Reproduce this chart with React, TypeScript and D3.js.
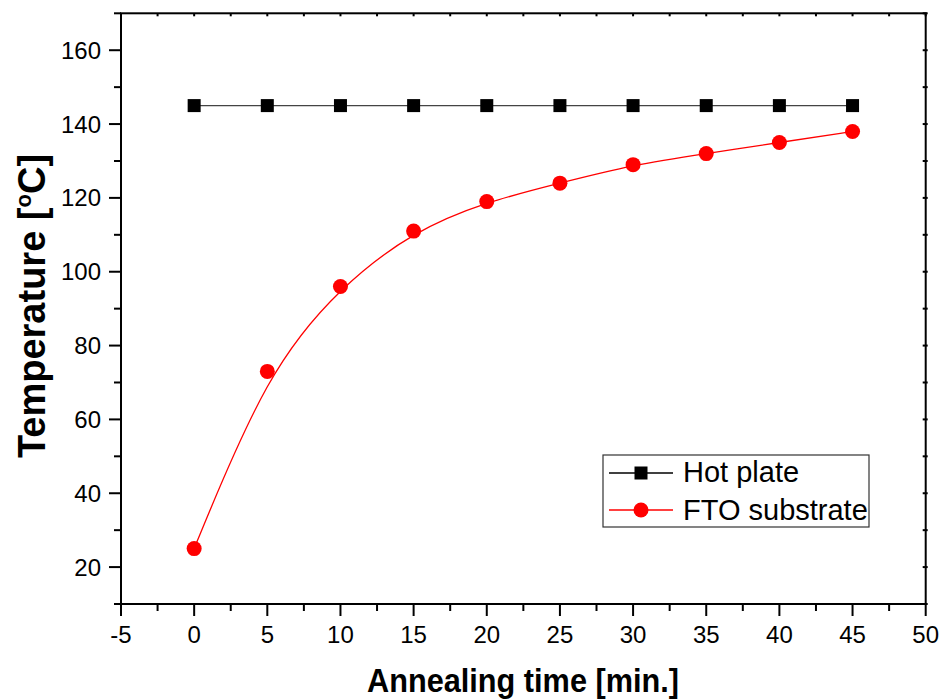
import React from 'react';
import * as d3 from 'd3';

const times = [0, 5, 10, 15, 20, 25, 30, 35, 40, 45];
const hotPlate = [145, 145, 145, 145, 145, 145, 145, 145, 145, 145];
const ftoSubstrate = [25, 73, 96, 111, 119, 124, 129, 132, 135, 138];
const xTicks = [-5, 0, 5, 10, 15, 20, 25, 30, 35, 40, 45, 50];
const yTicks = [20, 40, 60, 80, 100, 120, 140, 160];
const seriesNames = ['Hot plate', 'FTO substrate'];

const W = 944;
const H = 700;
const L = 121, R = 925.7, T = 13.3, B = 604;

export default function App() {
  const x = d3.scaleLinear().domain([-5, 50]).range([L, R]);
  const y = d3.scaleLinear().domain([10, 170]).range([B, T]);
  const xMinor = d3.range(-2.5, 50, 5);
  const yMinor = d3.range(10, 171, 20);
  const xAll = d3.range(-5, 50.01, 2.5);
  const yAll = d3.range(10, 170.01, 10);

  const hotLine = d3.line<number>().x((_, i) => x(times[i])).y(d => y(d));
  const ftoLine = d3.line<number>().x((_, i) => x(times[i])).y(d => y(d)).curve(d3.curveBasis);

  const font = "'Liberation Sans', Arial, sans-serif";
  const lx = 603, ly = 455, lw = 266, lh = 72;

  return (
    <svg width={W} height={H} style={{ position: 'absolute', left: 0, top: 0, background: '#fff' }} fontFamily={font}>
      <rect x={0} y={0} width={W} height={H} fill="#fff" />
      {/* series */}
      <path d={hotLine(hotPlate) || ''} fill="none" stroke="#444" strokeWidth={1.3} />
      <path d={ftoLine(ftoSubstrate) || ''} fill="none" stroke="#ff0000" strokeWidth={1.3} />
      {hotPlate.map((v, i) => (
        <rect key={'h' + i} x={x(times[i]) - 6.5} y={y(v) - 6.5} width={13} height={13} fill="#000" />
      ))}
      {ftoSubstrate.map((v, i) => (
        <circle key={'f' + i} cx={x(times[i])} cy={y(v)} r={7.5} fill="#ff0000" />
      ))}
      {/* frame */}
      <rect x={L} y={T} width={R - L} height={B - T} fill="none" stroke="#000" strokeWidth={2} />
      {/* bottom ticks */}
      {xTicks.map(t => (
        <line key={'xt' + t} x1={x(t)} x2={x(t)} y1={B} y2={B + 12} stroke="#000" strokeWidth={2} />
      ))}
      {xMinor.map(t => (
        <line key={'xm' + t} x1={x(t)} x2={x(t)} y1={B} y2={B + 7} stroke="#000" strokeWidth={2} />
      ))}
      {xTicks.map(t => (
        <text key={'xl' + t} x={x(t)} y={643} fontSize={24} textAnchor="middle" fill="#000">{t}</text>
      ))}
      {/* left ticks */}
      {yTicks.map(t => (
        <line key={'yt' + t} x1={L - 12} x2={L} y1={y(t)} y2={y(t)} stroke="#000" strokeWidth={2} />
      ))}
      {yMinor.map(t => (
        <line key={'ym' + t} x1={L - 7} x2={L} y1={y(t)} y2={y(t)} stroke="#000" strokeWidth={2} />
      ))}
      {yTicks.map(t => (
        <text key={'yl' + t} x={101} y={y(t) + 8.5} fontSize={24} textAnchor="end" fill="#000">{t}</text>
      ))}
      {/* top and right small ticks */}
      {xAll.map(t => (
        <line key={'xtop' + t} x1={x(t)} x2={x(t)} y1={T} y2={T + 3} stroke="#000" strokeWidth={2} />
      ))}
      {yAll.map(t => (
        <line key={'yr' + t} x1={R - 3} x2={R + 2} y1={y(t)} y2={y(t)} stroke="#000" strokeWidth={2} />
      ))}
      {/* axis titles */}
      <text x={523} y={692} fontSize={34} fontWeight="bold" textAnchor="middle" textLength={312} lengthAdjust="spacingAndGlyphs" fill="#000">
        Annealing time [min.]
      </text>
      <text transform="translate(45,306) rotate(-90)" fontSize={38} fontWeight="bold" textAnchor="middle" fill="#000">
        Temperature [<tspan fontSize={22} dy={-14}>o</tspan><tspan dy={14}>C]</tspan>
      </text>
      {/* legend */}
      <rect x={lx} y={ly} width={lw} height={lh} fill="#fff" stroke="#333" strokeWidth={1.2} />
      <line x1={609} x2={673} y1={473} y2={473} stroke="#000" strokeWidth={1.3} />
      <rect x={641 - 6.5} y={473 - 6.5} width={13} height={13} fill="#000" />
      <text x={683} y={482} fontSize={29} fill="#000">{seriesNames[0]}</text>
      <line x1={609} x2={673} y1={510} y2={510} stroke="#ff0000" strokeWidth={1.3} />
      <circle cx={641} cy={510} r={7.5} fill="#ff0000" />
      <text x={683} y={520} fontSize={29} fill="#000">{seriesNames[1]}</text>
    </svg>
  );
}
